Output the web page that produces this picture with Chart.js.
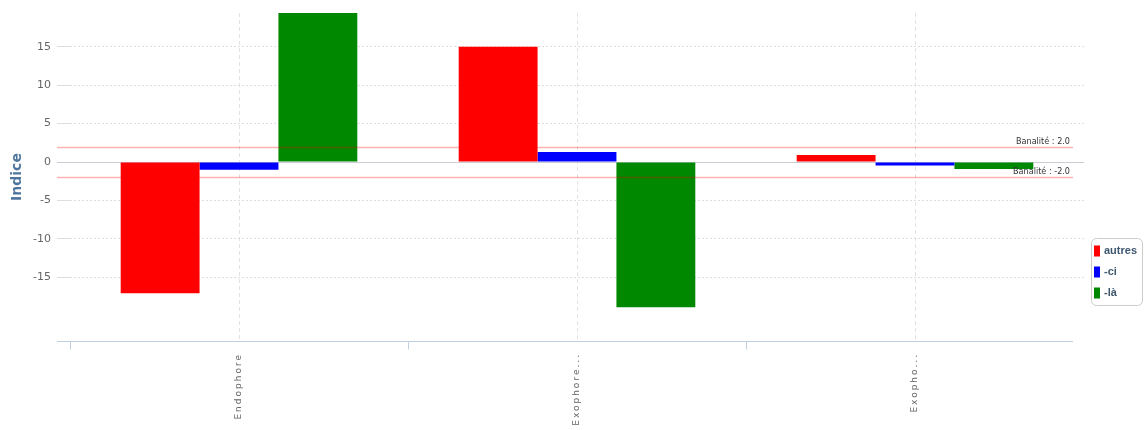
<!DOCTYPE html>
<html>
<head>
<meta charset="utf-8">
<script src="https://cdn.jsdelivr.net/npm/chart.js@4"></script>
<style>
  body { margin: 0; background: #fff; }
  #chart { display: block; }
</style>
</head>
<body>
<canvas id="chart" width="1145" height="430"></canvas>
<script>
const CATEGORIES = ['Endophore', 'Exophore...', 'Exopho...'];
const SERIES_NAMES = ['autres', '-ci', '-là'];
const AUTRES = [-17.1, 15.0, 0.9];
const CI = [-1.0, 1.3, -0.45];
const LA = [21.0, -18.9, -0.9];
const Y_TICKS = [-15, -10, -5, 0, 5, 10, 15];
const BANALITE = [2.0, -2.0];
const COLORS = ['#ff0000', '#0000ff', '#008800'];

const CHART_CANVAS = document.getElementById('chart');

// light red thresholds + their labels
const banalitePlugin = {
  id: 'banalite',
  afterDatasetsDraw(chart) {
    const { ctx, chartArea, scales: { y } } = chart;
    ctx.save();
    BANALITE.forEach(v => {
      const py = Math.round(y.getPixelForValue(v)) + 0.5;
      ctx.strokeStyle = 'rgba(255,0,0,0.3)';
      ctx.lineWidth = 1.5;
      ctx.beginPath();
      ctx.moveTo(chartArea.left - 13, py);
      ctx.lineTo(chartArea.right - 11, py);
      ctx.stroke();
      ctx.fillStyle = '#333';
      ctx.font = "9px 'DejaVu Sans Condensed', 'Liberation Sans Narrow', sans-serif";
      ctx.textAlign = 'right';
      ctx.textBaseline = 'alphabetic';
      ctx.fillText('Banalité : ' + v.toFixed(1), chartArea.right - 14, py - 4);
    });
    ctx.restore();
  }
};

// axis line + tick marks on category boundaries
const boundaryTicks = {
  id: 'boundaryTicks',
  afterDraw(chart) {
    const { ctx, chartArea, scales: { x } } = chart;
    const step = x.getPixelForValue(1) - x.getPixelForValue(0);
    const by = Math.round(chartArea.bottom) + 0.5;
    ctx.save();
    ctx.strokeStyle = '#c0d0e0';
    ctx.lineWidth = 1;
    ctx.beginPath();
    ctx.moveTo(chartArea.left - 13, by);
    ctx.lineTo(chartArea.right - 11, by);
    ctx.stroke();
    CATEGORIES.forEach((c, i) => {
      const px = Math.round(x.getPixelForValue(i) - step / 2) + 0.5;
      ctx.beginPath();
      ctx.moveTo(px, by);
      ctx.lineTo(px, by + 8);
      ctx.stroke();
    });
    ctx.restore();
  }
};

// boxed legend at the right
const sideLegend = {
  id: 'sideLegend',
  afterDraw(chart) {
    const { ctx, chartArea } = chart;
    const bx = chartArea.right + 7.5, by = 238.5, bw = 51, bh = 67;
    ctx.save();
    ctx.strokeStyle = '#cccccc';
    ctx.lineWidth = 1;
    ctx.beginPath();
    ctx.roundRect(bx, by, bw, bh, 5);
    ctx.stroke();
    ctx.font = "bold 11px 'Liberation Sans', Arial, sans-serif";
    ctx.textBaseline = 'middle';
    ctx.textAlign = 'left';
    chart.data.datasets.forEach((ds, i) => {
      const cy = 251 + i * 21;
      ctx.fillStyle = ds.backgroundColor;
      ctx.fillRect(bx + 2.5, cy - 5.5, 6, 11);
      ctx.fillStyle = '#3e576f';
      ctx.fillText(ds.label, bx + 12.5, cy);
    });
    ctx.restore();
  }
};

// spread the rotated category labels like the original
const spacedLabels = {
  id: 'spacedLabels',
  afterLayout(chart) {
    const x = chart.scales.x;
    if (x._spacedWrapped) return;
    const orig = x.drawLabels.bind(x);
    x.drawLabels = function (area) {
      const ctx = this.ctx;
      ctx.save();
      ctx.letterSpacing = '2px';
      orig(area);
      ctx.restore();
    };
    x._spacedWrapped = true;
  }
};

const datasets = [AUTRES, CI, LA].map((values, i) => ({
  label: SERIES_NAMES[i],
  data: values,
  backgroundColor: COLORS[i],
  borderWidth: 0,
  barPercentage: 1,
  categoryPercentage: 0.7,
}));

new Chart(CHART_CANVAS, {
  type: 'bar',
  data: { labels: CATEGORIES, datasets },
  plugins: [banalitePlugin, boundaryTicks, sideLegend, spacedLabels],
  options: {
    responsive: false,
    animation: false,
    layout: { padding: { top: 13, right: 61, bottom: 0, left: 0 } },
    plugins: { legend: { display: false }, tooltip: { enabled: false } },
    scales: {
      x: {
        afterFit: s => { s.height = 89; },
        grid: { offset: false, drawTicks: false, color: '#e2e2e2' },
        border: { display: false, dash: [4, 3] },
        ticks: {
          minRotation: 90, maxRotation: 90, padding: 12, autoSkip: false,
          color: '#666', font: { family: "'DejaVu Sans', sans-serif", size: 9 }
        }
      },
      y: {
        min: -23.3,
        max: 19.4,
        afterFit: s => { s.width = 70; },
        afterBuildTicks: s => { s.ticks = Y_TICKS.map(v => ({ value: v })); },
        grid: {
          color: c => c.tick && c.tick.value === 0 ? '#c8ccd4' : '#dedede',
          tickColor: c => c.tick && c.tick.value === 0 ? '#c8ccd4' : '#dedede',
          tickLength: 13,
        },
        border: { display: false, dash: c => c.tick && c.tick.value === 0 ? [] : [2, 2] },
        ticks: {
          padding: 6, color: '#666',
          font: { family: "'DejaVu Sans', sans-serif", size: 11 }
        },
        title: {
          display: true, text: 'Indice', color: '#4d759e',
          font: { family: "'DejaVu Sans', sans-serif", size: 14, weight: 'bold' },
          padding: { top: 9, bottom: 0 }
        }
      }
    }
  }
});
</script>
</body>
</html>
